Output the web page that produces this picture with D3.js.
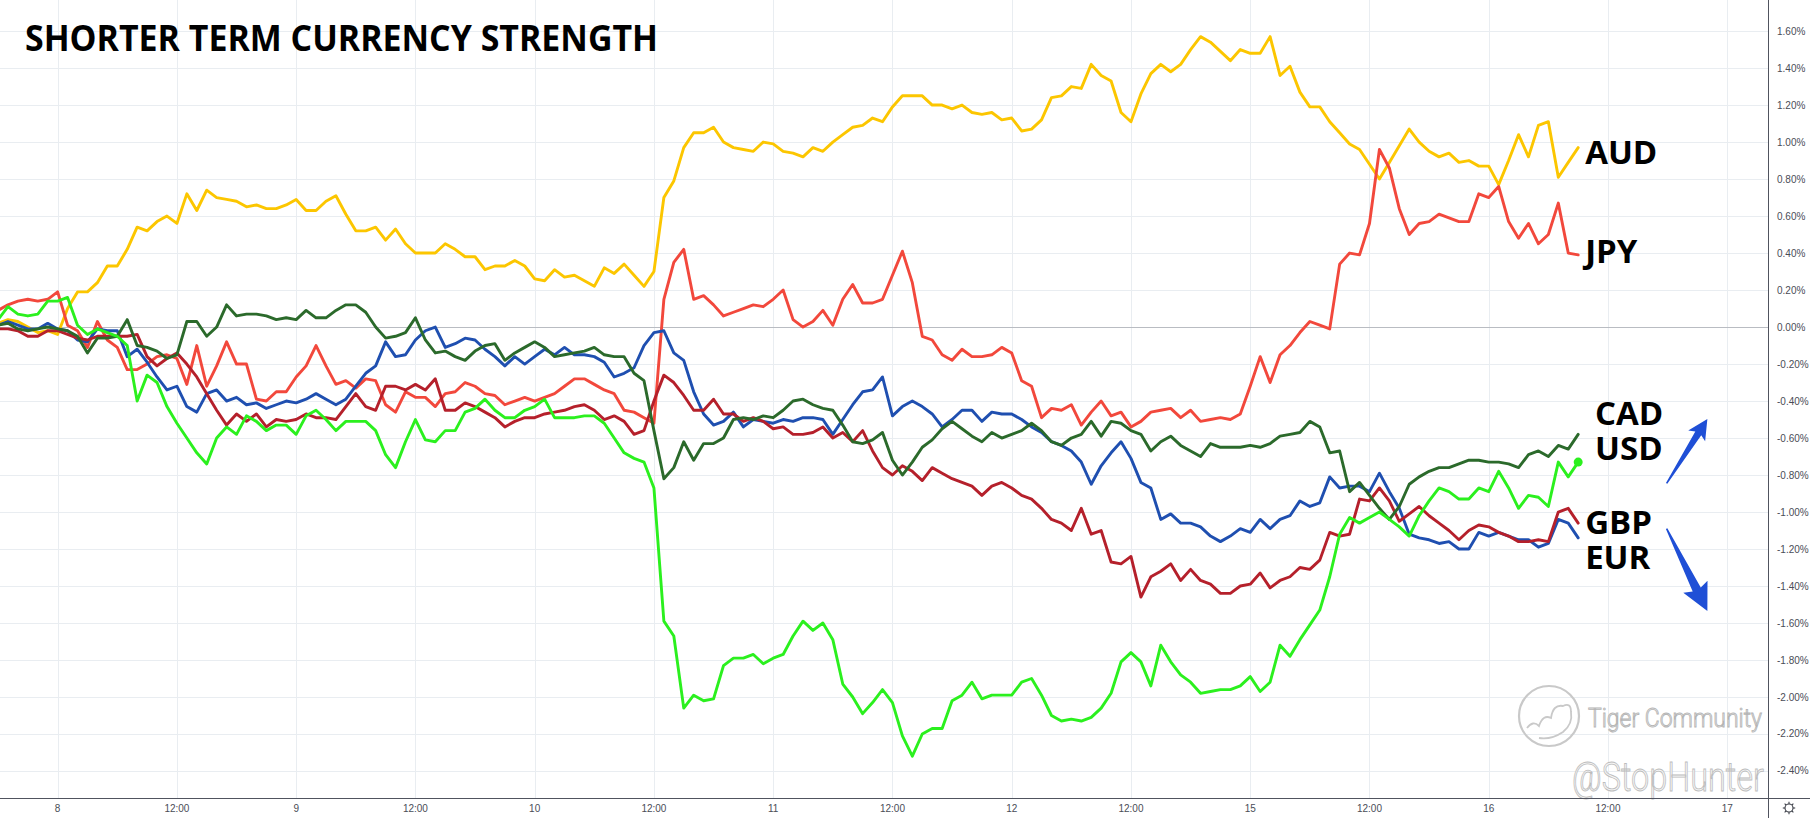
<!DOCTYPE html>
<html><head><meta charset="utf-8">
<script src="https://cdn.jsdelivr.net/npm/d3@7"></script>
<style>html,body{margin:0;padding:0;background:#fff;overflow:hidden}</style>
</head><body>
<svg id="chart" width="1810" height="818"></svg>
<script>
// hourly points, first point at hour -6 relative to day "8" 00:00
const startHour = -6;
const AUD = [
 0.02, 0.04, 0.03, 0.00, -0.03, -0.02, -0.04, 0.10, 0.19, 0.19,
 0.24, 0.33, 0.33, 0.42, 0.54, 0.52, 0.57, 0.60, 0.56, 0.72,
 0.63, 0.74, 0.70, 0.69, 0.68, 0.65, 0.66, 0.64, 0.64, 0.66,
 0.69, 0.63, 0.63, 0.68, 0.71, 0.61, 0.52, 0.52, 0.54, 0.47,
 0.53, 0.45, 0.40, 0.40, 0.40, 0.45, 0.42, 0.38, 0.38, 0.31,
 0.33, 0.33, 0.36, 0.33, 0.26, 0.25, 0.31, 0.27, 0.28, 0.25,
 0.22, 0.32, 0.29, 0.34, 0.28, 0.22, 0.30, 0.70, 0.79, 0.97,
 1.05, 1.05, 1.08, 1.00, 0.97, 0.96, 0.95, 1.00, 0.99, 0.95,
 0.94, 0.92, 0.97, 0.95, 1.00, 1.04, 1.08, 1.09, 1.13, 1.11,
 1.19, 1.25, 1.25, 1.25, 1.20, 1.20, 1.18, 1.20, 1.16, 1.15,
 1.16, 1.12, 1.13, 1.06, 1.07, 1.12, 1.24, 1.25, 1.30, 1.29,
 1.42, 1.36, 1.33, 1.16, 1.11, 1.26, 1.37, 1.42, 1.38, 1.42,
 1.50, 1.57, 1.54, 1.49, 1.44, 1.50, 1.48, 1.48, 1.57, 1.36,
 1.41, 1.27, 1.19, 1.19, 1.11, 1.05, 0.99, 0.96, 0.88, 0.80,
 0.89, 0.98, 1.07, 1.00, 0.95, 0.92, 0.94, 0.89, 0.90, 0.87,
 0.87, 0.77, 0.90, 1.04, 0.92, 1.09, 1.11, 0.81, 0.89, 0.97
];
const JPY = [
 0.09, 0.12, 0.14, 0.15, 0.14, 0.15, 0.19, 0.01, -0.02, -0.11,
 0.03, -0.07, -0.11, -0.23, -0.23, -0.20, -0.16, -0.15, -0.17, -0.31,
 -0.10, -0.32, -0.21, -0.08, -0.20, -0.20, -0.39, -0.40, -0.35, -0.35,
 -0.27, -0.21, -0.10, -0.21, -0.31, -0.29, -0.33, -0.28, -0.29, -0.42,
 -0.46, -0.35, -0.38, -0.38, -0.43, -0.36, -0.35, -0.30, -0.32, -0.36,
 -0.37, -0.42, -0.40, -0.38, -0.40, -0.38, -0.36, -0.32, -0.28, -0.28,
 -0.31, -0.34, -0.36, -0.45, -0.46, -0.49, -0.52, 0.15, 0.35, 0.42,
 0.15, 0.17, 0.12, 0.06, 0.08, 0.10, 0.12, 0.11, 0.15, 0.20,
 0.04, 0.00, 0.03, 0.09, 0.01, 0.15, 0.23, 0.13, 0.13, 0.15,
 0.28, 0.41, 0.24, -0.05, -0.07, -0.15, -0.18, -0.12, -0.16, -0.16,
 -0.15, -0.11, -0.14, -0.29, -0.32, -0.49, -0.44, -0.45, -0.42, -0.53,
 -0.46, -0.40, -0.48, -0.46, -0.54, -0.51, -0.46, -0.45, -0.44, -0.49,
 -0.45, -0.51, -0.50, -0.49, -0.50, -0.47, -0.32, -0.16, -0.30, -0.15,
 -0.10, -0.03, 0.03, 0.01, -0.01, 0.34, 0.40, 0.39, 0.56, 0.96,
 0.86, 0.64, 0.50, 0.56, 0.57, 0.61, 0.59, 0.57, 0.57, 0.72,
 0.70, 0.76, 0.57, 0.48, 0.56, 0.45, 0.50, 0.67, 0.40, 0.39
];
const GBP = [
 -0.01, -0.01, -0.02, -0.05, -0.05, -0.02, -0.02, -0.04, -0.06, -0.07,
 -0.05, -0.05, -0.05, -0.05, -0.04, -0.16, -0.21, -0.17, -0.14, -0.20,
 -0.27, -0.36, -0.45, -0.53, -0.47, -0.51, -0.47, -0.54, -0.50, -0.51,
 -0.50, -0.47, -0.49, -0.49, -0.50, -0.43, -0.36, -0.43, -0.45, -0.32,
 -0.32, -0.34, -0.31, -0.34, -0.28, -0.45, -0.45, -0.41, -0.43, -0.46,
 -0.49, -0.54, -0.51, -0.49, -0.49, -0.47, -0.46, -0.45, -0.43, -0.42,
 -0.45, -0.50, -0.48, -0.51, -0.58, -0.56, -0.40, -0.26, -0.30, -0.37,
 -0.45, -0.45, -0.39, -0.47, -0.47, -0.51, -0.49, -0.51, -0.55, -0.54,
 -0.58, -0.58, -0.57, -0.54, -0.60, -0.57, -0.62, -0.56, -0.67, -0.76,
 -0.80, -0.75, -0.78, -0.83, -0.76, -0.79, -0.82, -0.84, -0.86, -0.91,
 -0.86, -0.84, -0.87, -0.91, -0.93, -0.98, -1.04, -1.06, -1.10, -0.98,
 -1.12, -1.10, -1.27, -1.28, -1.24, -1.46, -1.35, -1.32, -1.28, -1.37,
 -1.31, -1.37, -1.39, -1.44, -1.44, -1.40, -1.39, -1.33, -1.41, -1.37,
 -1.35, -1.30, -1.31, -1.26, -1.11, -1.13, -1.12, -0.93, -0.94, -0.87,
 -0.94, -1.05, -1.01, -0.97, -1.02, -1.06, -1.10, -1.15, -1.10, -1.07,
 -1.08, -1.11, -1.13, -1.16, -1.16, -1.15, -1.16, -1.00, -0.98, -1.06
];
const EUR = [
 0.01, 0.03, 0.01, -0.01, -0.01, 0.02, -0.01, -0.02, -0.07, -0.08,
 -0.01, -0.02, -0.02, -0.16, -0.12, -0.19, -0.27, -0.34, -0.32, -0.43,
 -0.46, -0.36, -0.34, -0.40, -0.38, -0.42, -0.41, -0.44, -0.42, -0.40,
 -0.41, -0.39, -0.36, -0.39, -0.42, -0.39, -0.32, -0.25, -0.21, -0.08,
 -0.16, -0.15, -0.07, -0.02, 0.00, -0.11, -0.09, -0.06, -0.07, -0.12,
 -0.16, -0.21, -0.16, -0.20, -0.16, -0.12, -0.15, -0.11, -0.15, -0.15,
 -0.16, -0.19, -0.27, -0.25, -0.22, -0.10, -0.03, -0.02, -0.14, -0.18,
 -0.35, -0.47, -0.53, -0.51, -0.46, -0.54, -0.50, -0.51, -0.52, -0.50,
 -0.51, -0.49, -0.49, -0.50, -0.58, -0.50, -0.42, -0.35, -0.34, -0.27,
 -0.48, -0.43, -0.40, -0.43, -0.47, -0.54, -0.50, -0.45, -0.45, -0.51,
 -0.46, -0.47, -0.47, -0.50, -0.54, -0.57, -0.62, -0.64, -0.67, -0.73,
 -0.85, -0.75, -0.68, -0.62, -0.71, -0.84, -0.87, -1.04, -1.01, -1.06,
 -1.06, -1.08, -1.13, -1.16, -1.13, -1.09, -1.11, -1.04, -1.09, -1.04,
 -1.02, -0.94, -0.97, -0.95, -0.81, -0.87, -0.86, -0.86, -0.89, -0.79,
 -0.89, -0.98, -1.12, -1.14, -1.15, -1.17, -1.16, -1.20, -1.20, -1.11,
 -1.13, -1.11, -1.13, -1.15, -1.15, -1.19, -1.17, -1.04, -1.06, -1.14
];
const CAD = [
 0.01, 0.02, -0.01, -0.02, -0.01, 0.00, -0.01, -0.02, -0.05, -0.14,
 -0.06, -0.06, -0.05, 0.04, -0.10, -0.11, -0.13, -0.17, -0.15, 0.03,
 0.03, -0.05, 0.00, 0.12, 0.06, 0.07, 0.07, 0.06, 0.04, 0.05,
 0.04, 0.09, 0.05, 0.05, 0.09, 0.12, 0.12, 0.08, 0.00, -0.06,
 -0.05, -0.03, 0.05, -0.07, -0.14, -0.13, -0.16, -0.18, -0.13, -0.10,
 -0.09, -0.18, -0.14, -0.11, -0.08, -0.11, -0.16, -0.15, -0.14, -0.13,
 -0.11, -0.15, -0.16, -0.16, -0.25, -0.29, -0.56, -0.82, -0.76, -0.62,
 -0.72, -0.63, -0.63, -0.60, -0.50, -0.49, -0.50, -0.48, -0.49, -0.45,
 -0.40, -0.39, -0.42, -0.44, -0.45, -0.53, -0.62, -0.63, -0.61, -0.57,
 -0.72, -0.80, -0.73, -0.65, -0.61, -0.55, -0.51, -0.55, -0.59, -0.62,
 -0.57, -0.60, -0.58, -0.56, -0.52, -0.56, -0.62, -0.64, -0.60, -0.58,
 -0.51, -0.59, -0.51, -0.52, -0.56, -0.58, -0.67, -0.62, -0.59, -0.64,
 -0.67, -0.70, -0.63, -0.65, -0.65, -0.65, -0.64, -0.65, -0.63, -0.59,
 -0.58, -0.57, -0.51, -0.54, -0.68, -0.67, -0.89, -0.84, -0.91, -0.98,
 -1.04, -0.97, -0.85, -0.81, -0.78, -0.76, -0.76, -0.74, -0.72, -0.72,
 -0.73, -0.73, -0.74, -0.76, -0.69, -0.67, -0.70, -0.64, -0.66, -0.58
];
const USD = [
 0.04, 0.11, 0.07, 0.06, 0.07, 0.14, 0.14, 0.16, 0.01, -0.04,
 -0.01, -0.03, -0.05, -0.10, -0.40, -0.26, -0.30, -0.43, -0.52, -0.60,
 -0.68, -0.74, -0.60, -0.54, -0.58, -0.48, -0.51, -0.56, -0.53, -0.53,
 -0.58, -0.48, -0.45, -0.50, -0.56, -0.51, -0.51, -0.51, -0.56, -0.69,
 -0.76, -0.62, -0.50, -0.61, -0.62, -0.56, -0.56, -0.46, -0.44, -0.39,
 -0.45, -0.49, -0.49, -0.45, -0.43, -0.39, -0.49, -0.49, -0.49, -0.48,
 -0.48, -0.52, -0.60, -0.68, -0.71, -0.73, -0.87, -1.59, -1.67, -2.06,
 -1.99, -2.02, -2.01, -1.83, -1.79, -1.79, -1.77, -1.82, -1.79, -1.77,
 -1.67, -1.59, -1.64, -1.60, -1.69, -1.93, -2.00, -2.09, -2.03, -1.96,
 -2.03, -2.21, -2.32, -2.20, -2.17, -2.17, -2.02, -1.99, -1.92, -2.01,
 -1.99, -1.99, -1.99, -1.92, -1.90, -1.99, -2.10, -2.13, -2.12, -2.13,
 -2.11, -2.06, -1.98, -1.81, -1.76, -1.81, -1.94, -1.72, -1.81, -1.88,
 -1.92, -1.98, -1.97, -1.96, -1.96, -1.94, -1.89, -1.97, -1.92, -1.72,
 -1.78, -1.69, -1.61, -1.53, -1.35, -1.12, -1.03, -1.06, -1.03, -1.00,
 -1.04, -1.08, -1.13, -1.02, -0.94, -0.87, -0.89, -0.93, -0.93, -0.87,
 -0.89, -0.78, -0.87, -0.98, -0.91, -0.92, -0.97, -0.73, -0.81, -0.73
];
const seriesNames = ["AUD", "JPY", "EUR", "GBP", "CAD", "USD"];
const seriesColors = {AUD:"#fcc600", JPY:"#f2483c", EUR:"#1f4fb0", GBP:"#b5202b", CAD:"#2b6a2b", USD:"#2bf01e"};
const seriesData = {AUD, JPY, EUR, GBP, CAD, USD};
// x-axis ticks every 12 hours
const tickLabels = ["8","12:00","9","12:00","10","12:00","11","12:00","12","12:00","15","12:00","16","12:00","17"];
const yTickValues = [-2.4,-2.2,-2.0,-1.8,-1.6,-1.4,-1.2,-1.0,-0.8,-0.6,-0.4,-0.2,0,0.2,0.4,0.6,0.8,1.0,1.2,1.4,1.6];
// right-side labels: text, hour position, value at baseline
const labelNames = ["AUD","JPY","CAD","USD","GBP","EUR"];
const labelHours = [153.7, 153.7, 154.7, 154.7, 153.7, 153.7];
const labelValues = [0.88, 0.345, -0.53, -0.72, -1.12, -1.31];

const W = 1810, H = 818, plotR = 1768, plotB = 798;
const svg = d3.select("#chart");
const x = d3.scaleLinear().domain([-5.8, 172.1]).range([0, plotR]);
const y = d3.scaleLinear().domain([-2.546, 1.768]).range([plotB, 0]);

svg.append("rect").attr("width", W).attr("height", H).attr("fill", "#ffffff");

// grid
const grid = svg.append("g");
grid.selectAll("line.h").data(yTickValues).join("line")
  .attr("x1", 0).attr("x2", plotR)
  .attr("y1", d => Math.round(y(d)) + 0.5).attr("y2", d => Math.round(y(d)) + 0.5)
  .attr("stroke", d => Math.abs(d) < 1e-9 ? "#b9bcc2" : "#e9edf1").attr("stroke-width", 1);
grid.selectAll("line.v").data(tickLabels).join("line")
  .attr("x1", (d, i) => Math.round(x(i * 12)) + 0.5).attr("x2", (d, i) => Math.round(x(i * 12)) + 0.5)
  .attr("y1", 0).attr("y2", plotB)
  .attr("stroke", "#e9edf1").attr("stroke-width", 1);
grid.append("line").attr("x1", 0).attr("x2", plotR)
  .attr("y1", Math.round(y(0)) + 0.5).attr("y2", Math.round(y(0)) + 0.5)
  .attr("stroke", "#b9bcc2").attr("stroke-width", 1);

// watermark (behind lines)
const wm = svg.append("g");
const lx = 1549, ly = 716;
wm.append("circle").attr("cx", lx).attr("cy", ly).attr("r", 30)
  .attr("fill", "none").attr("stroke", "#c9c9c9").attr("stroke-width", 2.2);
wm.append("path")
  .attr("d", `M${lx-22},${ly+12} q6,-8 12,-2 q4,-12 12,-8 q2,-14 12,-12 q8,-4 8,6 q2,12 -8,20 q-12,8 -24,6`)
  .attr("fill", "none").attr("stroke", "#c9c9c9").attr("stroke-width", 1.8);
wm.append("text").attr("x", 1588).attr("y", 727)
  .attr("font-family", "Roboto, 'Open Sans', sans-serif").attr("font-weight", 300).attr("font-size", 25)
  .attr("textLength", 174).attr("lengthAdjust", "spacingAndGlyphs")
  .attr("fill", "#f3f3f3").attr("stroke", "#b5b5b5").attr("stroke-width", 0.9)
  .text("Tiger Community");
wm.append("text").attr("x", 1572).attr("y", 791)
  .attr("font-family", "Roboto, 'Open Sans', sans-serif").attr("font-weight", 300).attr("font-size", 40)
  .attr("textLength", 192).attr("lengthAdjust", "spacingAndGlyphs")
  .attr("fill", "#f6f6f6").attr("stroke", "#bdbdbd").attr("stroke-width", 0.9)
  .text("@StopHunter");

// series lines
const clip = svg.append("clipPath").attr("id", "plotclip");
clip.append("rect").attr("x", 0).attr("y", 0).attr("width", plotR).attr("height", plotB);
const line = d3.line().x((d, i) => x(startHour + i)).y(d => y(d));
const lines = svg.append("g").attr("clip-path", "url(#plotclip)");
seriesNames.forEach(name => {
  lines.append("path").datum(seriesData[name])
    .attr("d", line).attr("fill", "none")
    .attr("stroke", seriesColors[name]).attr("stroke-width", 2.9)
    .attr("stroke-linejoin", "round").attr("stroke-linecap", "round");
});
lines.append("circle")
  .attr("cx", x(startHour + USD.length - 1)).attr("cy", y(USD[USD.length - 1]))
  .attr("r", 4.5).attr("fill", seriesColors.USD);

// axes lines
svg.append("line").attr("x1", 0).attr("x2", W).attr("y1", plotB + 0.5).attr("y2", plotB + 0.5)
  .attr("stroke", "#50535e").attr("stroke-width", 1);
svg.append("line").attr("x1", plotR + 0.5).attr("x2", plotR + 0.5).attr("y1", 0).attr("y2", H)
  .attr("stroke", "#50535e").attr("stroke-width", 1);

// y labels
const fmt = v => (v < -1e-9 ? "-" : "") + Math.abs(v).toFixed(2) + "%";
svg.append("g").selectAll("text").data(yTickValues).join("text")
  .attr("x", plotR + 9).attr("y", d => y(d)).attr("dy", "0.35em")
  .attr("font-family", "'Liberation Sans', Arial, sans-serif").attr("font-size", 10)
  .attr("fill", "#4a4d57").text(fmt);
// x labels
svg.append("g").selectAll("text").data(tickLabels).join("text")
  .attr("x", (d, i) => x(i * 12)).attr("y", plotB + 10).attr("dy", "0.35em")
  .attr("text-anchor", "middle")
  .attr("font-family", "'Liberation Sans', Arial, sans-serif").attr("font-size", 10)
  .attr("fill", "#4a4d57").text(d => d);

// gear icon
const gx = 1789, gy = 808;
const gear = svg.append("g").attr("stroke", "#3c3f48").attr("fill", "none").attr("stroke-width", 1.1);
gear.append("circle").attr("cx", gx).attr("cy", gy).attr("r", 4);
d3.range(8).forEach(k => {
  const a = k * Math.PI / 4;
  gear.append("line").attr("x1", gx + Math.cos(a) * 4).attr("y1", gy + Math.sin(a) * 4)
    .attr("x2", gx + Math.cos(a) * 6.2).attr("y2", gy + Math.sin(a) * 6.2);
});

// title
svg.append("text").attr("x", 25).attr("y", 51)
  .attr("font-family", "'Open Sans', 'DejaVu Sans', sans-serif").attr("font-weight", 700)
  .attr("font-size", 35).attr("fill", "#000")
  .attr("textLength", 633).attr("lengthAdjust", "spacingAndGlyphs")
  .text("SHORTER TERM CURRENCY STRENGTH");

// right labels
svg.append("g").selectAll("text").data(labelNames).join("text")
  .attr("x", (d, i) => x(labelHours[i])).attr("y", (d, i) => y(labelValues[i]))
  .attr("font-family", "'Open Sans', 'DejaVu Sans', sans-serif").attr("font-weight", 700)
  .attr("font-size", 33).attr("fill", "#000")
  .text(d => d);

// arrows (annotations in data coordinates)
const arrowSpecs = [
  {from: [161.9, -0.845], to: [166.0, -0.497], headLen: 17, headW: 20, neckW: 7},
  {from: [161.9, -1.09], to: [166.0, -1.535], headLen: 24, headW: 27, neckW: 9}
];
arrowSpecs.forEach(a => {
  const x1 = x(a.from[0]), y1 = y(a.from[1]), x2 = x(a.to[0]), y2 = y(a.to[1]);
  const L = Math.hypot(x2 - x1, y2 - y1), ux = (x2 - x1) / L, uy = (y2 - y1) / L, px = -uy, py = ux;
  const nx = x2 - ux * a.headLen, ny = y2 - uy * a.headLen;
  const p = d3.path();
  p.moveTo(x1 + px * 0.8, y1 + py * 0.8);
  p.lineTo(nx + px * a.neckW / 2, ny + py * a.neckW / 2);
  p.lineTo(nx - ux * 3 + px * a.headW / 2, ny - uy * 3 + py * a.headW / 2);
  p.lineTo(x2, y2);
  p.lineTo(nx - ux * 3 - px * a.headW / 2, ny - uy * 3 - py * a.headW / 2);
  p.lineTo(nx - px * a.neckW / 2, ny - py * a.neckW / 2);
  p.lineTo(x1 - px * 0.8, y1 - py * 0.8);
  p.closePath();
  svg.append("path").attr("d", p.toString()).attr("fill", "#1f4fd6");
});
</script>
</body></html>
